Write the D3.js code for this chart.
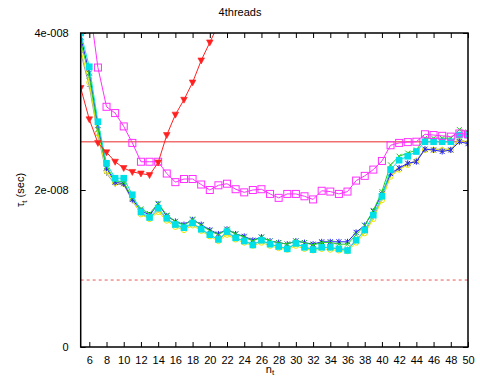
<!DOCTYPE html>
<html><head><meta charset="utf-8">
<script src="https://cdn.jsdelivr.net/npm/d3@7"></script>
<style>body{margin:0;background:#fff}svg{display:block}text{font-family:"Liberation Sans",Arial,sans-serif;font-size:11px;fill:#000}</style>
</head><body>
<script>
const xs = d3.range(5, 51);
// values in units of 1e-8 sec
const redVals = [3.30,2.90,2.60,2.48,2.36,2.28,2.23,2.21,2.19,2.35,2.70,2.96,3.15,3.37,3.65,3.88,4.11];
const magentaVals = [5.00,4.38,3.56,3.06,2.98,2.81,2.60,2.36,2.36,2.36,2.21,2.10,2.14,2.14,2.07,2.00,2.06,2.08,2.01,1.97,2.00,2.01,1.95,1.90,1.95,1.95,1.92,1.88,1.99,1.98,1.95,1.98,2.12,2.18,2.26,2.37,2.57,2.60,2.61,2.615,2.71,2.70,2.69,2.68,2.72,2.71];
const cyanVals = [4.00,3.57,2.87,2.34,2.15,2.15,1.94,1.72,1.65,1.77,1.64,1.56,1.52,1.58,1.50,1.43,1.37,1.47,1.39,1.35,1.30,1.36,1.31,1.28,1.25,1.32,1.27,1.24,1.27,1.27,1.25,1.23,1.36,1.49,1.68,1.92,2.26,2.38,2.43,2.49,2.615,2.615,2.615,2.615,2.70,2.70];
const greenVals = [3.89,3.45,2.77,2.30,2.12,2.10,1.90,1.76,1.70,1.83,1.68,1.60,1.55,1.63,1.55,1.48,1.43,1.50,1.44,1.40,1.35,1.40,1.35,1.33,1.31,1.35,1.33,1.30,1.33,1.33,1.31,1.31,1.43,1.55,1.74,1.98,2.32,2.43,2.47,2.51,2.66,2.66,2.66,2.66,2.77,2.74];
const blueVals = [3.95,3.49,2.82,2.28,2.10,2.08,1.88,1.74,1.68,1.82,1.67,1.60,1.56,1.62,1.56,1.49,1.44,1.50,1.44,1.41,1.36,1.40,1.35,1.33,1.31,1.35,1.33,1.31,1.34,1.34,1.34,1.34,1.46,1.55,1.73,1.95,2.21,2.28,2.34,2.36,2.52,2.51,2.49,2.51,2.615,2.59];
const yellowVals = [3.79,3.37,2.72,2.24,2.09,2.08,1.88,1.69,1.63,1.72,1.61,1.53,1.49,1.55,1.48,1.41,1.35,1.43,1.37,1.33,1.29,1.33,1.29,1.26,1.24,1.29,1.25,1.23,1.25,1.24,1.23,1.22,1.33,1.45,1.63,1.87,2.17,2.26,2.32,2.37,2.51,2.51,2.51,2.51,2.63,2.60];
const greyVals = [3.75,3.32,2.70,2.21,2.07,2.07,1.86,1.70,1.64,1.74,1.63,1.55,1.51,1.57,1.50,1.43,1.37,1.45,1.39,1.35,1.31,1.35,1.31,1.28,1.26,1.31,1.27,1.25,1.27,1.26,1.25,1.25,1.36,1.47,1.65,1.89,2.19,2.27,2.33,2.38,2.52,2.52,2.52,2.52,2.64,2.61];
const refSolid = 2.615, refDashed = 0.853;
const xTicks = d3.range(6, 51, 2);
const yTicks = [0, 2, 4];
const yTickLabels = ["0", "2e-008", "4e-008"];
const title = "4threads";

const W = 480, H = 380;
const m = {l: 80.7, r: 468, t: 33, b: 347};
const svg = d3.select("body").append("svg").attr("width", W).attr("height", H);
const x = d3.scaleLinear().domain([5, 50]).range([m.l, m.r]);
const y = d3.scaleLinear().domain([0, 4]).range([m.b, m.t]);

svg.append("defs").append("clipPath").attr("id","clip").append("rect")
  .attr("x", m.l).attr("y", m.t).attr("width", m.r - m.l).attr("height", m.b - m.t);

// axes
const tickLen = 5;
const gx = svg.append("g").attr("transform", `translate(0,${m.b})`)
  .call(d3.axisBottom(x).tickValues(xTicks).tickSize(-tickLen).tickPadding(9).tickFormat(d3.format("d")));
const gxt = svg.append("g").attr("transform", `translate(0,${m.t})`)
  .call(d3.axisTop(x).tickValues(xTicks).tickSize(-tickLen).tickFormat(""));
const gy = svg.append("g").attr("transform", `translate(${m.l},0)`)
  .call(d3.axisLeft(y).tickValues(yTicks).tickSize(-tickLen).tickPadding(12).tickFormat((d,i)=>yTickLabels[i]));
const gyr = svg.append("g").attr("transform", `translate(${m.r},0)`)
  .call(d3.axisRight(y).tickValues(yTicks).tickSize(-tickLen).tickFormat(""));
[gx,gxt,gy,gyr].forEach(g=>{
  g.select(".domain").remove();
  g.selectAll("line").attr("stroke","#000").attr("stroke-width",1);
  g.selectAll("text").attr("font-family","Liberation Sans, Arial, sans-serif").attr("font-size",11).attr("fill","#000");
});

// reference lines
const cg = svg.append("g").attr("clip-path","url(#clip)");
cg.append("line").attr("x1", m.l).attr("x2", m.r).attr("y1", y(refSolid)).attr("y2", y(refSolid))
  .attr("stroke","#f07070").attr("stroke-width",1.6);
cg.append("line").attr("x1", m.l).attr("x2", m.r).attr("y1", y(refDashed)).attr("y2", y(refDashed))
  .attr("stroke","#e03030").attr("stroke-width",0.8).attr("stroke-dasharray","3,3");

const line = d3.line().x((d,i)=>x(xs[i])).y(d=>y(d));
const series = [
  {vals: greyVals, color:"#a0a0a0", mark:"plus"},
  {vals: yellowVals, color:"#e8e800", mark:"circle"},
  {vals: blueVals, color:"#2020ff", mark:"star"},
  {vals: greenVals, color:"#20d020", mark:"cross"},
  {vals: cyanVals, color:"#00e0e8", mark:"fsquare"},
  {vals: magentaVals, color:"#ff30ff", mark:"osquare"},
  {vals: redVals, color:"#ff2020", mark:"tri"}
];
series.forEach(s=>{
  const g = cg.append("g");
  g.append("path").datum(s.vals).attr("d", line).attr("fill","none").attr("stroke",s.color).attr("stroke-width",1);
  const pts = g.selectAll("g.p").data(s.vals).join("g").attr("transform",(d,i)=>`translate(${x(xs[i])},${y(d)})`);
  if (s.mark==="circle") pts.append("circle").attr("r",2.6).attr("fill","none").attr("stroke",s.color).attr("stroke-width",1);
  else if (s.mark==="fsquare") pts.append("rect").attr("x",-3.3).attr("y",-3.3).attr("width",6.6).attr("height",6.6).attr("fill",s.color);
  else if (s.mark==="osquare") pts.append("rect").attr("x",-3.5).attr("y",-3.5).attr("width",7).attr("height",7).attr("fill","none").attr("stroke",s.color).attr("stroke-width",1);
  else if (s.mark==="tri") pts.append("path").attr("d","M-3.3,-2.5L3.3,-2.5L0,3.5Z").attr("fill",s.color).attr("stroke",s.color).attr("stroke-width",0.6);
  else if (s.mark==="cross") pts.append("path").attr("d","M-2.5,-2.5L2.5,2.5M-2.5,2.5L2.5,-2.5").attr("stroke",s.color).attr("stroke-width",1);
  else if (s.mark==="star") pts.append("path").attr("d","M-2.5,-2.5L2.5,2.5M-2.5,2.5L2.5,-2.5M0,-3L0,3").attr("stroke",s.color).attr("stroke-width",1);
  else if (s.mark==="plus") pts.append("path").attr("d","M-2.5,0L2.5,0M0,-2.5L0,2.5").attr("stroke",s.color).attr("stroke-width",1);
});

// frame
svg.append("rect").attr("x", m.l).attr("y", m.t).attr("width", m.r - m.l).attr("height", m.b - m.t)
  .attr("fill","none").attr("stroke","#000").attr("stroke-width",1.5);

// titles
svg.append("text").attr("x", 240).attr("y", 16).attr("text-anchor","middle").text(title);
const xl = svg.append("text").attr("x", 270).attr("y", 373).attr("text-anchor","middle");
xl.append("tspan").text("n");
xl.append("tspan").attr("dy",2).attr("font-size",8).text("t");
const yl = svg.append("text").attr("transform","translate(24,190) rotate(-90)").attr("text-anchor","middle");
yl.append("tspan").text("τ");
yl.append("tspan").attr("dy",3).attr("font-size",8).text("t");
yl.append("tspan").attr("dy",-3).text(" (sec)");
</script>
</body></html>
